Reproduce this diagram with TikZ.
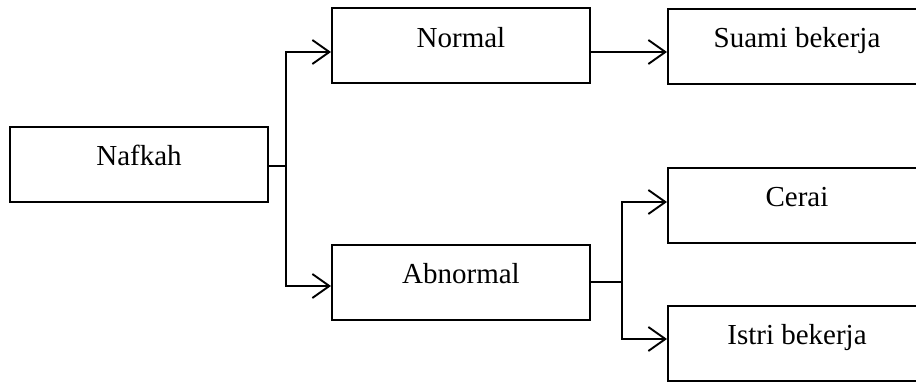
\documentclass[tikz,border=0pt]{standalone}
\usepackage{fontspec}
\setmainfont{Liberation Serif}
\usetikzlibrary{arrows.meta,calc}
\begin{document}
\begin{tikzpicture}[x=1pt,y=1pt,
  box/.style={draw,line width=2pt,minimum width=258pt,minimum height=75pt,inner sep=0pt,
    text height=20pt,text depth=17pt,font=\fontsize{29}{34}\selectfont},
  conn/.style={line width=1.9pt},
  arr/.style={conn,-{Straight Barb[length=17pt,width=24pt,line width=1.9pt]}}]
\useasboundingbox (0,0) rectangle (916,383);
\node[box] (nafkah) at (139,218.5) {Nafkah};
\node[box] (normal) at (461,337) {Normal};
\node[box] (abnormal) at (461,100.5) {Abnormal};
\node[box] (suami) at (797,336.5) {Suami bekerja};
\node[box] (cerai) at (797,177.5) {Cerai};
\node[box] (istri) at (797,39.5) {Istri bekerja};
\draw[conn] ([yshift=-1.5pt]nafkah.east) -- ++(17,0) coordinate (b1);
\draw[arr] (b1) |- ([yshift=-6pt]normal.west);
\draw[arr] (b1) |- ([yshift=-3.5pt]abnormal.west);
\draw[arr] ([yshift=-6pt]normal.east) -- ([yshift=-6pt]normal.east -| suami.west);
\draw[conn] ([yshift=0.5pt]abnormal.east) -- ++(31,0) coordinate (b2);
\draw[arr] (b2) |- ([yshift=3.5pt]cerai.west);
\draw[arr] (b2) |- ([yshift=4.5pt]istri.west);
\end{tikzpicture}
\end{document}
